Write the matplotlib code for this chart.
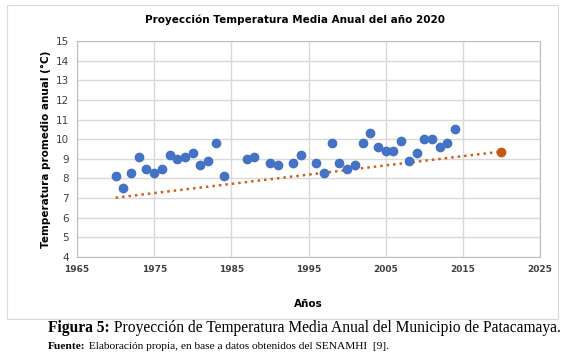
import matplotlib.pyplot as plt
from matplotlib.patches import Rectangle

anios = [1970, 1971, 1972, 1973, 1974, 1975, 1976, 1977, 1978, 1979, 1980,
         1981, 1982, 1983, 1984, 1987, 1988, 1990, 1991, 1993, 1994, 1996,
         1997, 1998, 1999, 2000, 2001, 2002, 2003, 2004, 2005, 2006, 2007,
         2008, 2009, 2010, 2011, 2012, 2013, 2014]
temp = [8.1, 7.5, 8.3, 9.1, 8.5, 8.3, 8.5, 9.2, 9.0, 9.1, 9.3,
        8.7, 8.9, 9.8, 8.1, 9.0, 9.1, 8.8, 8.7, 8.8, 9.2, 8.8,
        8.3, 9.8, 8.8, 8.5, 8.7, 9.8, 10.3, 9.6, 9.4, 9.4, 9.9,
        8.9, 9.3, 10.0, 10.0, 9.6, 9.8, 10.5]

anio_proy = [2020]
temp_proy = [9.37]

tend_anios = [1970, 2020]
tend_vals = [7.02, 9.37]

xticks = [1965, 1975, 1985, 1995, 2005, 2015, 2025]
yticks = list(range(4, 16))

fig = plt.figure(figsize=(5.69, 3.56), dpi=100)
# marco del grafico
fig.patches.append(Rectangle((7 / 569, 1 - 319 / 356), 551 / 569, 314 / 356,
                             transform=fig.transFigure, fill=False,
                             edgecolor='#d9d9d9', linewidth=0.8))

ax = fig.add_axes([77 / 569, 1 - 257 / 356, 463 / 569, 216 / 356])
ax.plot(tend_anios, tend_vals, linestyle=(0, (1, 1.6)), color='#D0601A',
        linewidth=1.8, zorder=2)
ax.scatter(anios, temp, s=36, color='#4472C4', zorder=3)
ax.scatter(anio_proy, temp_proy, s=36, color='#C55A11', zorder=3)

ax.set_xlim(1965, 2025)
ax.set_ylim(4, 15)
ax.set_xticks(xticks)
ax.set_yticks(yticks)
ax.grid(True, color='#d9d9d9', linewidth=1)
ax.set_axisbelow(True)
for s in ax.spines.values():
    s.set_color('#bfbfbf')
ax.tick_params(length=0, labelsize=7.5, colors='#404040', pad=6)
for lab in ax.get_xticklabels():
    lab.set_fontweight('bold')
    lab.set_fontsize(6.5)

ax.set_xlabel('Años', fontsize=7.5, fontweight='bold', labelpad=18)
ax.set_ylabel('Temperatura promedio anual (°C)', fontsize=7.5,
              fontweight='bold', labelpad=3)
fig.text(295 / 569, 1 - 20 / 356, 'Proyección Temperatura Media Anual del año 2020',
         ha='center', va='center', fontsize=7.5, fontweight='bold')

# pie de figura: parte en negrita y parte normal
fig.canvas.draw()
r = fig.canvas.get_renderer()


def pie(x, y, negrita, resto, size):
    t = fig.text(x / 569, 1 - y / 356, negrita, ha='left', va='baseline',
                 fontsize=size, family='Liberation Serif', fontweight='bold')
    w = t.get_window_extent(renderer=r).width
    fig.text((x + w) / 569, 1 - y / 356, resto, ha='left', va='baseline',
             fontsize=size, family='Liberation Serif')


pie(48, 332, 'Figura 5:', ' Proyección de Temperatura Media Anual del Municipio de Patacamaya.', 11.2)
pie(48, 349, 'Fuente:', ' Elaboración propia, en base a datos obtenidos del SENAMHI  [9].', 8.2)

fig.savefig('out.png', dpi=100)
